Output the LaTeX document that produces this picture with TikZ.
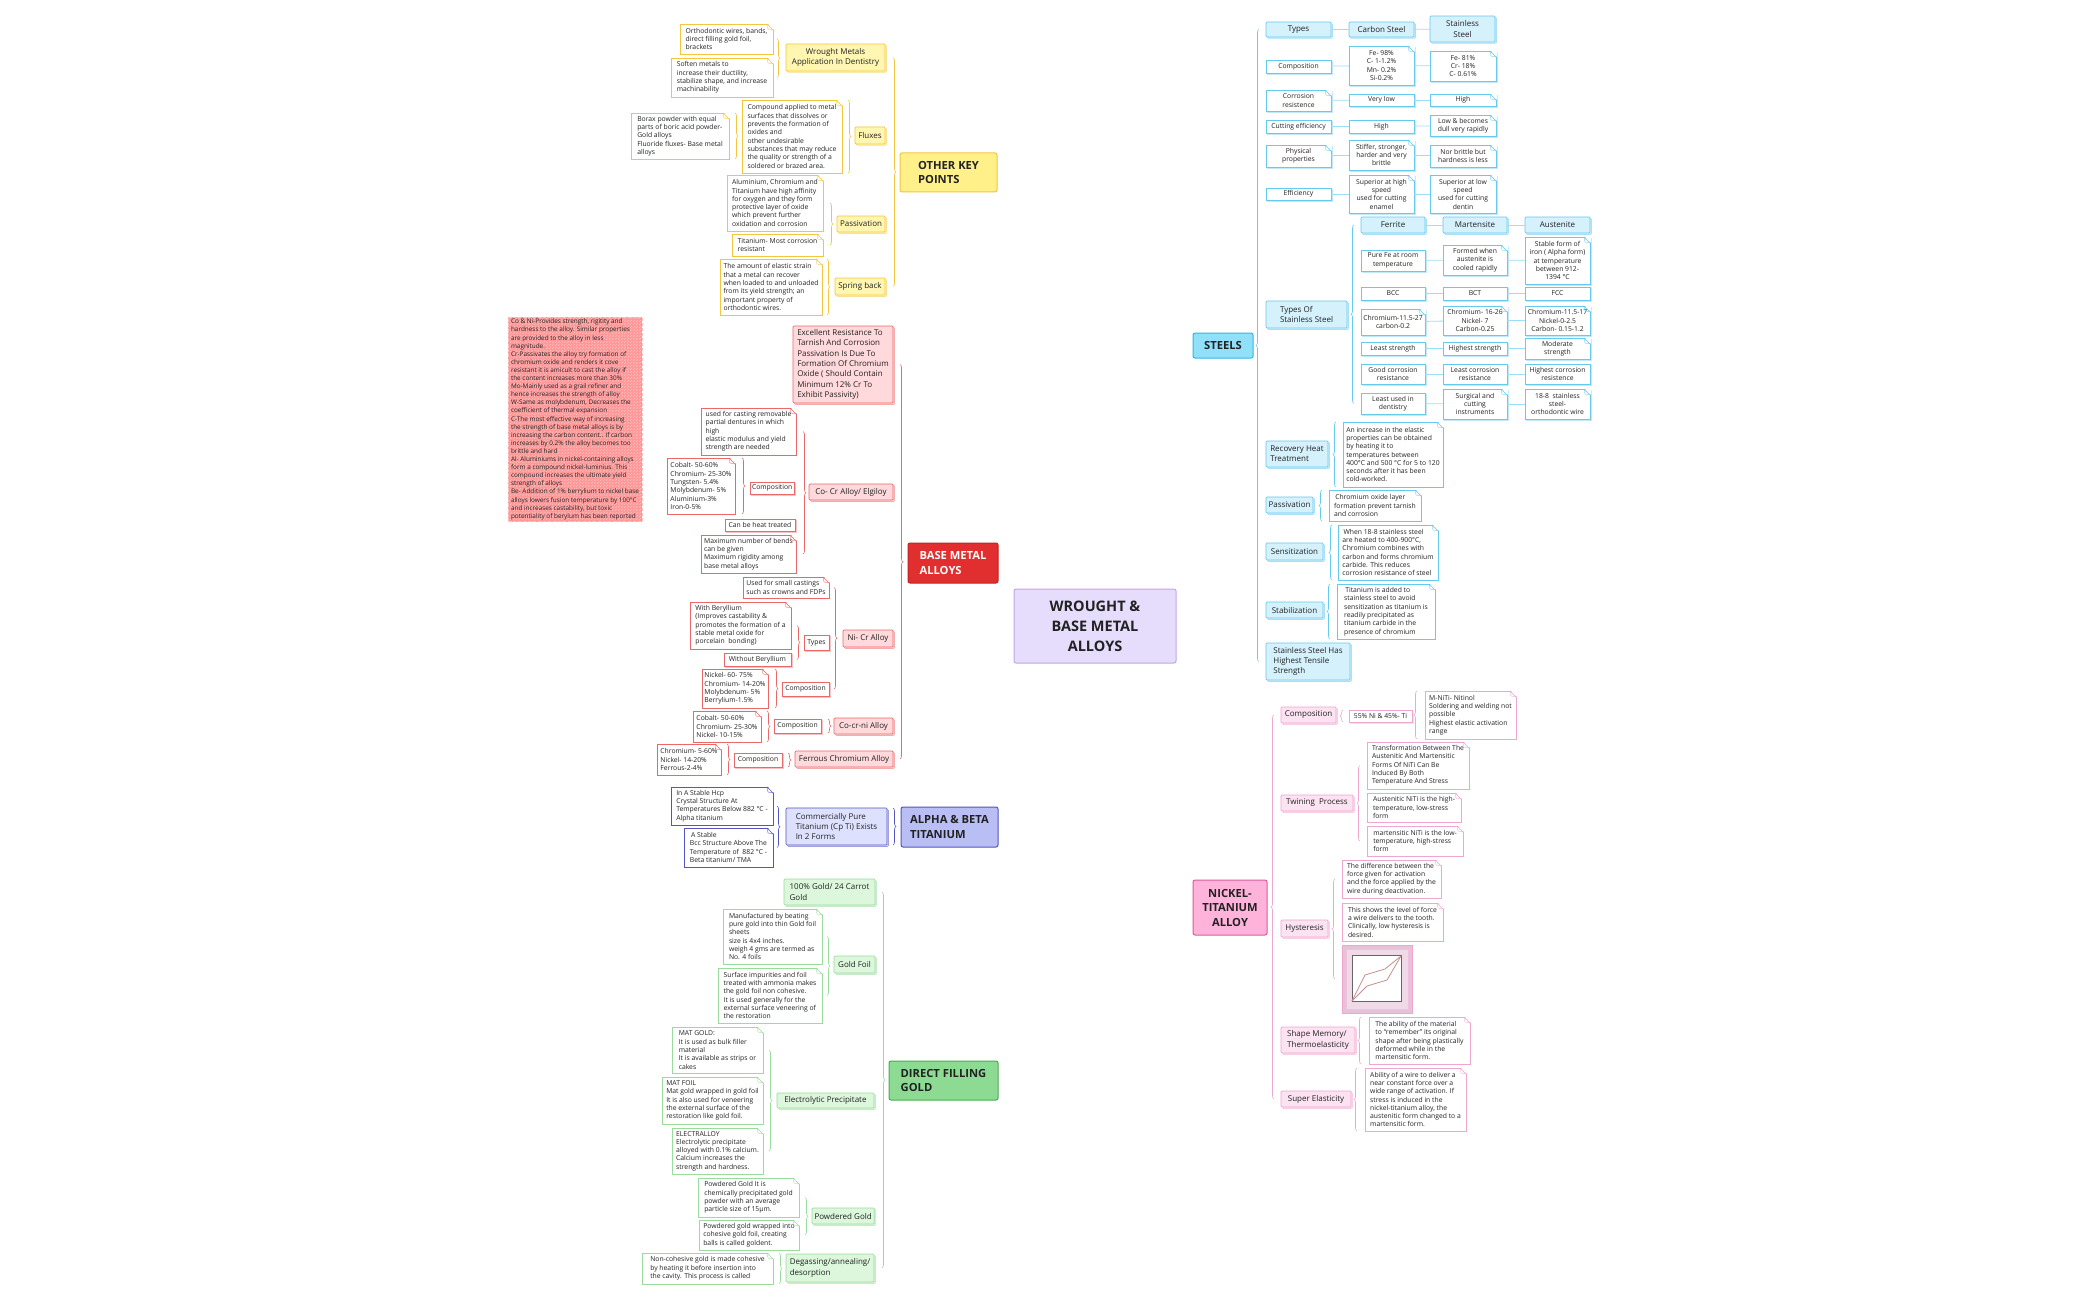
\documentclass[tikz,border=0pt]{standalone}
\usepackage{fontspec}
\setmainfont{Open Sans}
\usetikzlibrary{calc,decorations.pathreplacing,shadows,patterns,backgrounds}

\definecolor{hubF}{HTML}{E6DCFC}
\definecolor{hubB}{HTML}{C3A6E8}
\definecolor{ylwL}{HTML}{F9C21E}
\definecolor{ylwB}{HTML}{F4C63D}
\definecolor{ylwF}{HTML}{FFF08A}
\definecolor{ylwS}{HTML}{FFF6B2}
\definecolor{redL}{HTML}{E23A3A}
\definecolor{redB}{HTML}{C42222}
\definecolor{redF}{HTML}{E12E2E}
\definecolor{redE}{HTML}{EB6868}
\definecolor{redS}{HTML}{FFD9DB}
\definecolor{redN}{HTML}{FF9696}
\definecolor{purL}{HTML}{5D5DC9}
\definecolor{purB}{HTML}{5454C2}
\definecolor{purF}{HTML}{B9BFF5}
\definecolor{purS}{HTML}{DEE1FE}
\definecolor{grnL}{HTML}{9DE2A1}
\definecolor{grnB}{HTML}{4DAA53}
\definecolor{grnF}{HTML}{8DDA93}
\definecolor{grnE}{HTML}{9ADB9E}
\definecolor{grnS}{HTML}{DCF7DC}
\definecolor{bluL}{HTML}{9BDFF6}
\definecolor{bluB}{HTML}{2FBAE3}
\definecolor{bluF}{HTML}{8FE0F8}
\definecolor{bluE}{HTML}{66C9EE}
\definecolor{bluS}{HTML}{D5F1FC}
\definecolor{pnkL}{HTML}{EDB8D7}
\definecolor{pnkB}{HTML}{DE5A9E}
\definecolor{pnkF}{HTML}{FFB3DB}
\definecolor{pnkE}{HTML}{EEA7CF}
\definecolor{pnkS}{HTML}{FCE3F1}
\definecolor{imgF}{HTML}{E6C1D7}
\definecolor{curve}{HTML}{C48F8C}
\definecolor{ink}{HTML}{222222}

\newcommand{\dogear}[2]{%
  \fill[white] ($(#1.north east)+(-6,-1)$) -- ($(#1.north east)+(1,-1)$) -- ($(#1.north east)+(1,6)$) -- cycle;
  \draw[#2, line width=.5pt, line join=round] ($(#1.north east)+(-6,0)$) -- ($(#1.north east)+(0,6)$);
  \draw[#2, line width=.35pt] ($(#1.north east)+(-6,0)$) -- ($(#1.north east)+(-5,5)$) -- ($(#1.north east)+(0,6)$);
}

\begin{document}
\begin{tikzpicture}[x=1pt, y=-1pt,
  every node/.style={anchor=north west, inner sep=2.5pt, outer sep=0pt, text=ink},
  hub/.style={draw=hubB, fill=hubF, line width=1pt, rounded corners=2pt, align=center, font=\bfseries\fontsize{14.5}{20}\selectfont},
  branch/.style 2 args={draw=#1, fill=#2, line width=1pt, rounded corners=2pt, align=left, font=\bfseries\fontsize{11.2}{14.5}\selectfont, inner sep=4pt},
  sub/.style 2 args={draw=#1, fill=#2, line width=.7pt, rounded corners=1pt, align=left, font=\fontsize{8}{10.3}\selectfont,
    general shadow={shadow xshift=1.4pt, shadow yshift=-1.4pt, draw=#1!55, fill=#2}},
  note/.style={draw=#1, fill=white, line width=.6pt, align=left, inner sep=2pt, font=\fontsize{6.8}{8.3}\selectfont},
  cell/.style={draw=#1, fill=white, line width=.6pt, align=center, inner sep=2pt, font=\fontsize{6.8}{8.3}\selectfont,
    general shadow={shadow xshift=1.2pt, shadow yshift=-1.2pt, draw=#1!40, fill=white}},
  rnote/.style={fill=redN, draw=redN!60!white, line width=.8pt, densely dashed, align=left, inner sep=2pt, font=\fontsize{6.4}{8.1}\selectfont,
    postaction={pattern=north east lines, pattern color=white!45!redN}},
  brc/.style={decorate, decoration={brace, amplitude=3pt}, draw=#1, line width=.6pt},
  link/.style={draw=#1, line width=2.8pt, line cap=round}
]
\fill[white] (0,0) rectangle (2100,1300);

\node[hub, minimum width=162pt, minimum height=74pt] (cen) at (1014,589) {WROUGHT \&\\BASE METAL\\ALLOYS};

\node[branch={ylwB}{ylwF}, minimum width=97pt, minimum height=39pt] (okp) at (900,153) {OTHER KEY\\POINTS};
\node[sub={ylwB}{ylwS}, align=center, minimum width=99pt, minimum height=27pt] (okwm) at (786,44) {Wrought Metals\\Application In Dentistry};
\node[sub={ylwB}{ylwS}, minimum width=30pt, minimum height=17pt] (okfx) at (855,127) {Fluxes};
\node[sub={ylwB}{ylwS}, minimum width=48pt, minimum height=16pt] (okpa) at (837,216) {Passivation};
\node[sub={ylwB}{ylwS}, minimum width=50pt, minimum height=17pt] (oksb) at (835,278) {Spring back};
\node[note=ylwB, minimum width=93pt, minimum height=30pt] (n1) at (680,24) {Orthodontic wires, bands,\\direct filling gold foil,\\brackets};
\node[note=ylwB, minimum width=102pt, minimum height=39pt] (n2) at (671,58) {Soften metals to\\increase their ductility,\\stabilize shape, and increase\\machinability};
\node[note=ylwB, minimum width=100pt, minimum height=73pt] (n3) at (742,100) {Compound applied to metal\\surfaces that dissolves or\\prevents the formation of\\oxides and\\other undesirable\\substances that may reduce\\the quality or strength of a\\soldered or brazed area.};
\node[note=ylwB, minimum width=98pt, minimum height=46pt] (n4) at (631,113) {Borax powder with equal\\parts of boric acid powder-\\Gold alloys\\Fluoride fluxes- Base metal\\alloys};
\node[note=ylwB, minimum width=96pt, minimum height=56pt] (n5) at (727,175) {Aluminium, Chromium and\\Titanium have high affinity\\for oxygen and they form\\protective layer of oxide\\which prevent further\\oxidation and corrosion};
\node[note=ylwB, minimum width=91pt, minimum height=22pt] (n6) at (732,234) {Titanium- Most corrosion\\resistant};
\node[note=ylwB, minimum width=102pt, minimum height=56pt] (n7) at (720,259) {The amount of elastic strain\\that a metal can recover\\when loaded to and unloaded\\from its yield strength; an\\important property of\\orthodontic wires.};

\node[rnote, minimum width=134pt, minimum height=201pt] (rn) at (508,317) {Co \& Ni-Provides strength, rigitity and\\hardness to the alloy. Similar properties\\are provided to the alloy in less\\magnitude.\\Cr-Passivates the alloy try formation of\\chromium oxide and renders it cove\\resistant it is amicult to cast the alloy if\\the content increases more than 30\%\\Mo-Mainly used as a grail refiner and\\hence increases the strength of alloy\\W-Same as molybdenum, Decreases the\\coefficient of thermal expansion\\C-The most effective way of increasing\\the strength of base metal alloys is by\\increasing the carbon content.. If carbon\\increases by 0.2\% the alloy becomes too\\brittle and hard\\Al- Aluminiums in nickel-containing alloys\\form a compound nickel-luminius. This\\compound increases the ultimate yield\\strength of alloys\\Be- Addition of 1\% berrylium to nickel base\\alloys lowers fusion temperature by 100°C\\and increases castability, but toxic\\potentiality of berylum has been reported};

\node[branch={redB}{redF}, text=white, minimum width=90pt, minimum height=40pt] (bma) at (908,543) {BASE METAL\\ALLOYS};
\node[sub={redE}{redS}, minimum width=100pt, minimum height=77pt] (bmex) at (793,326) {Excellent Resistance To\\Tarnish And Corrosion\\Passivation Is Due To\\Formation Of Chromium\\Oxide ( Should Contain\\Minimum 12\% Cr To\\Exhibit Passivity)};
\node[sub={redE}{redS}, minimum width=84pt, minimum height=16pt] (bmcc) at (809,484) {Co- Cr Alloy/ Elgiloy};
\node[sub={redE}{redS}, minimum width=50pt, minimum height=17pt] (bmnc) at (843,630) {Ni- Cr Alloy};
\node[sub={redE}{redS}, minimum width=59pt, minimum height=16pt] (bmcn) at (834,718) {Co-cr-ni Alloy};
\node[sub={redE}{redS}, minimum width=98pt, minimum height=16pt] (bmfc) at (795,751) {Ferrous Chromium Alloy};
\node[note=redE, minimum width=95pt, minimum height=47pt] (cc1) at (701,408) {used for casting removable\\partial dentures in which\\high\\elastic modulus and yield\\strength are needed};
\node[cell=redE, minimum width=44pt, minimum height=12pt] (ccc) at (750,482) {Composition};
\node[note=redE, minimum width=68pt, minimum height=56pt] (ccn) at (667,458) {Cobalt- 50-60\%\\Chromium- 25-30\%\\Tungsten- 5.4\%\\Molybdenum- 5\%\\Aluminium-3\%\\Iron-0-5\%};
\node[cell=redE, minimum width=70pt, minimum height=12pt] (cch) at (725,519) {Can be heat treated};
\node[note=redE, minimum width=95pt, minimum height=38pt] (cc2) at (701,535) {Maximum number of bends\\can be given\\Maximum rigidity among\\base metal alloys};
\node[note=redE, minimum width=86pt, minimum height=21pt] (nc1) at (743,577) {Used for small castings\\such as crowns and FDPs};
\node[cell=redE, minimum width=25pt, minimum height=15pt] (nct) at (804,635) {Types};
\node[note=redE, minimum width=101pt, minimum height=47pt] (nb1) at (690,602) {With Beryllium\\(Improves castability \&\\promotes the formation of a\\stable metal oxide for\\porcelain~ bonding)};
\node[cell=redE, minimum width=67pt, minimum height=13pt] (nb2) at (724,653) {Without Beryllium};
\node[cell=redE, minimum width=47pt, minimum height=14pt] (ncc) at (782,682) {Composition};
\node[note=redE, minimum width=66pt, minimum height=39pt] (ncn) at (702,669) {Nickel- 60- 75\%\\Chromium- 14-20\%\\Molybdenum- 5\%\\Berrylium-1.5\%};
\node[cell=redE, minimum width=47pt, minimum height=14pt] (cnc) at (774,719) {Composition};
\node[note=redE, minimum width=68pt, minimum height=31pt] (cnn) at (693,711) {Cobalt- 50-60\%\\Chromium- 25-30\%\\Nickel- 10-15\%};
\node[cell=redE, minimum width=48pt, minimum height=14pt] (fcc) at (734,753) {Composition};
\node[note=redE, minimum width=64pt, minimum height=31pt] (fcn) at (657,744) {Chromium- 5-60\%\\Nickel- 14-20\%\\Ferrous-2-4\%};

\node[branch={purB}{purF}, minimum width=97pt, minimum height=40pt] (abt) at (901,807) {ALPHA \& BETA\\TITANIUM};
\node[sub={purB}{purS}, minimum width=101pt, minimum height=37pt] (abcp) at (786,808) {Commercially Pure\\Titanium (Cp Ti) Exists\\In 2 Forms};
\node[note=purB, minimum width=102pt, minimum height=38pt] (ab1) at (671,787) {In A Stable Hcp\\Crystal Structure At\\Temperatures Below 882 °C -\\Alpha titanium};
\node[note=purB, minimum width=89pt, minimum height=39pt] (ab2) at (684,828) {\,A Stable\\Bcc Structure Above The\\Temperature of~ 882 °C -\\Beta titanium/ TMA};

\node[branch={grnB}{grnF}, minimum width=109pt, minimum height=39pt] (dfg) at (889,1061) {DIRECT FILLING\\GOLD};
\node[sub={grnE}{grnS}, minimum width=91pt, minimum height=26pt] (d24) at (784,879) {100\% Gold/ 24 Carrot\\Gold};
\node[sub={grnE}{grnS}, minimum width=41pt, minimum height=17pt] (dgf) at (834,956) {Gold Foil};
\node[sub={grnE}{grnS}, minimum width=97pt, minimum height=15pt] (dep) at (777,1093) {Electrolytic Precipitate};
\node[sub={grnE}{grnS}, minimum width=62pt, minimum height=16pt] (dpg) at (812,1208) {Powdered Gold};
\node[sub={grnE}{grnS}, minimum width=88pt, minimum height=28pt] (ddg) at (786,1254) {Degassing/annealing/\\desorption};
\node[note=grnE, minimum width=99pt, minimum height=55pt] (g1) at (723,909) {Manufactured by beating\\pure gold into thin Gold foil\\sheets\\size is 4x4 inches.\\weigh 4 gms are termed as\\No. 4 foils};
\node[note=grnE, minimum width=104pt, minimum height=55pt] (g2) at (718,968) {Surface impurities and foil\\treated with ammonia makes\\the gold foil non cohesive.\\It is used generally for the\\external surface veneering of\\the restoration};
\node[note=grnE, minimum width=91pt, minimum height=46pt] (g3) at (672,1027) {MAT GOLD:\\It is used as bulk filler\\material\\It is available as strips or\\cakes};
\node[note=grnE, minimum width=101pt, minimum height=47pt] (g4) at (662,1077) {MAT FOIL\\Mat gold wrapped in gold foil\\It is also used for veneering\\the external surface of the\\restoration like gold foil.};
\node[note=grnE, minimum width=91pt, minimum height=46pt] (g5) at (672,1128) {ELECTRALLOY\\Electrolytic precipitate\\alloyed with 0.1\% calcium.\\Calcium increases the\\strength and hardness.};
\node[note=grnE, minimum width=101pt, minimum height=39pt] (g6) at (698,1178) {Powdered Gold It is\\chemically precipitated gold\\powder with an average\\particle size of 15µm.};
\node[note=grnE, minimum width=100pt, minimum height=30pt] (g7) at (699,1220) {Powdered gold wrapped into\\cohesive gold foil, creating\\balls is called goldent.};
\node[note=grnE, minimum width=131pt, minimum height=31pt] (g8) at (642,1253) {Non-cohesive gold is made cohesive\\by heating it before insertion into\\the cavity. This process is called};

\node[branch={bluB}{bluF}, minimum width=60pt, minimum height=25pt] (stl) at (1193,333) {STEELS};
\node[sub={bluE}{bluS}, align=center, minimum width=65pt, minimum height=15pt] (stty) at (1266,22) {Types};
\node[sub={bluE}{bluS}, align=center, minimum width=65pt, minimum height=15pt] (stcs) at (1349,22) {Carbon Steel};
\node[sub={bluE}{bluS}, align=center, minimum width=65pt, minimum height=26pt] (stss) at (1430,16) {Stainless\\Steel};
\node[cell=bluE, minimum width=65pt, minimum height=13pt] (stco) at (1266,60) {Composition};
\node[cell=bluE, minimum width=65pt, minimum height=39pt] (sc1) at (1349,46) {Fe- 98\%\\C- 1-1.2\%\\Mn- 0.2\%\\Si-0.2\%};
\node[cell=bluE, minimum width=66pt, minimum height=30pt] (sc2) at (1430,51) {Fe- 81\%\\Cr- 18\%\\C- 0.61\%};
\node[cell=bluE, minimum width=65pt, minimum height=21pt] (stcr) at (1266,90) {Corrosion\\resistence};
\node[cell=bluE, minimum width=65pt, minimum height=12pt] (scr1) at (1349,94) {Very low};
\node[cell=bluE, minimum width=66pt, minimum height=12pt] (scr2) at (1430,94) {High};
\node[cell=bluE, minimum width=65pt, minimum height=13pt] (stcu) at (1266,120) {Cutting efficiency};
\node[cell=bluE, minimum width=65pt, minimum height=13pt] (scu1) at (1349,120) {High};
\node[cell=bluE, minimum width=66pt, minimum height=21pt] (scu2) at (1430,115) {Low \& becomes\\dull very rapidly};
\node[cell=bluE, minimum width=65pt, minimum height=22pt] (stph) at (1266,145) {Physical\\properties};
\node[cell=bluE, minimum width=65pt, minimum height=30pt] (sph1) at (1349,140) {Stiffer, stronger,\\harder and very\\brittle};
\node[cell=bluE, minimum width=66pt, minimum height=22pt] (sph2) at (1430,145) {Nor brittle but\\hardness is less};
\node[cell=bluE, minimum width=65pt, minimum height=12pt] (stef) at (1266,188) {Efficiency};
\node[cell=bluE, minimum width=65pt, minimum height=38pt] (sef1) at (1349,175) {Superior at high\\speed\\used for cutting\\enamel};
\node[cell=bluE, minimum width=66pt, minimum height=38pt] (sef2) at (1430,175) {Superior at low\\speed\\used for cutting\\dentin};

\node[sub={bluE}{bluS}, minimum width=81pt, minimum height=27pt] (stts) at (1266,301) {Types Of\\Stainless Steel};
\node[sub={bluE}{bluS}, align=center, minimum width=64pt, minimum height=16pt] (fe) at (1361,217) {Ferrite};
\node[sub={bluE}{bluS}, align=center, minimum width=64pt, minimum height=16pt] (ma) at (1443,217) {Martensite};
\node[sub={bluE}{bluS}, align=center, minimum width=65pt, minimum height=16pt] (au) at (1525,217) {Austenite};
\node[cell=bluE, minimum width=64pt, minimum height=21pt] (r2a) at (1361,250) {Pure Fe at room\\temperature};
\node[cell=bluE, minimum width=64pt, minimum height=30pt] (r2b) at (1443,245) {Formed when\\austenite is\\cooled rapidly};
\node[cell=bluE, minimum width=65pt, minimum height=47pt] (r2c) at (1525,237) {Stable form of\\iron ( Alpha form)\\at temperature\\between 912-\\1394 °C};
\node[cell=bluE, minimum width=64pt, minimum height=13pt] (r3a) at (1361,287) {BCC};
\node[cell=bluE, minimum width=64pt, minimum height=13pt] (r3b) at (1443,287) {BCT};
\node[cell=bluE, minimum width=65pt, minimum height=13pt] (r3c) at (1525,287) {FCC};
\node[cell=bluE, minimum width=64pt, minimum height=26pt] (r4a) at (1361,309) {Chromium-11.5-27\\carbon-0.2};
\node[cell=bluE, minimum width=64pt, minimum height=29pt] (r4b) at (1443,306) {Chromium- 16-26\\Nickel- 7\\Carbon-0.25};
\node[cell=bluE, minimum width=65pt, minimum height=29pt] (r4c) at (1525,306) {Chromium-11.5-17\\Nickel-0-2.5\\Carbon- 0.15-1.2};
\node[cell=bluE, minimum width=64pt, minimum height=13pt] (r5a) at (1361,342) {Least strength};
\node[cell=bluE, minimum width=64pt, minimum height=13pt] (r5b) at (1443,342) {Highest strength};
\node[cell=bluE, minimum width=65pt, minimum height=21pt] (r5c) at (1525,338) {Moderate\\strength};
\node[cell=bluE, minimum width=64pt, minimum height=20pt] (r6a) at (1361,364) {Good corrosion\\resistance};
\node[cell=bluE, minimum width=64pt, minimum height=20pt] (r6b) at (1443,364) {Least corrosion\\resistance};
\node[cell=bluE, minimum width=65pt, minimum height=20pt] (r6c) at (1525,364) {Highest corrosion\\resistence};
\node[cell=bluE, minimum width=64pt, minimum height=21pt] (r7a) at (1361,393) {Least used in\\dentistry};
\node[cell=bluE, minimum width=64pt, minimum height=30pt] (r7b) at (1443,389) {Surgical and\\cutting\\instruments};
\node[cell=bluE, minimum width=65pt, minimum height=30pt] (r7c) at (1525,389) {18-8~ stainless\\steel-\\orthodontic wire};

\node[sub={bluE}{bluS}, minimum width=62pt, minimum height=26pt] (strh) at (1266,441) {Recovery Heat\\Treatment};
\node[note=bluE, minimum width=100pt, minimum height=65pt] (rh1) at (1343,422) {An increase in the elastic\\properties can be obtained\\by heating it to\\temperatures between\\400°C and 500 °C for 5 to 120\\seconds after it has been\\cold-worked.};
\node[sub={bluE}{bluS}, minimum width=47pt, minimum height=16pt] (stpa) at (1266,497) {Passivation};
\node[note=bluE, minimum width=92pt, minimum height=31pt] (spa) at (1329,490) {\,Chromium oxide layer\\formation prevent tarnish\\and corrosion};
\node[sub={bluE}{bluS}, minimum width=57pt, minimum height=17pt] (stse) at (1266,543) {Sensitization};
\node[note=bluE, minimum width=100pt, minimum height=55pt] (sse) at (1338,525) {\,When 18-8 stainless steel\\are heated to 400-900°C,\\Chromium combines with\\carbon and forms chromium\\carbide. This reduces\\corrosion resistance of steel};
\node[sub={bluE}{bluS}, minimum width=57pt, minimum height=16pt] (stsb) at (1266,602) {Stabilization};
\node[note=bluE, minimum width=98pt, minimum height=55pt] (ssb) at (1337,584) {\,Titanium is added to\\stainless steel to avoid\\sensitization as titanium is\\readily precipitated as\\titanium carbide in the\\presence of chromium};
\node[sub={bluE}{bluS}, minimum width=84pt, minimum height=37pt] (sths) at (1266,643) {Stainless Steel Has\\Highest Tensile\\Strength};

\node[branch={pnkB}{pnkF}, align=center, minimum width=74pt, minimum height=55pt] (nti) at (1193,880) {NICKEL-\\TITANIUM\\ALLOY};
\node[sub={pnkE}{pnkS}, minimum width=55pt, minimum height=16pt] (nico) at (1281,707) {Composition};
\node[cell=pnkE, minimum width=63pt, minimum height=12pt] (nic1) at (1349,710) {55\% Ni \& 45\%- Ti};
\node[note=pnkE, minimum width=91pt, minimum height=48pt] (nic2) at (1425,691) {M-NiTi- Nitinol\\Soldering and welding not\\possible\\Highest elastic activation\\range};
\node[sub={pnkE}{pnkS}, minimum width=72pt, minimum height=16pt] (nitw) at (1281,795) {Twining~ Process};
\node[note=pnkE, minimum width=102pt, minimum height=47pt] (t1) at (1367,742) {Transformation Between The\\Austenitic And Martensitic\\Forms Of NiTi Can Be\\Induced By Both\\Temperature And Stress};
\node[note=pnkE, minimum width=94pt, minimum height=29pt] (t2) at (1367,793) {Austenitic NiTi is the high-\\temperature, low-stress\\form};
\node[note=pnkE, minimum width=96pt, minimum height=30pt] (t3) at (1367,826) {martensitic NiTi is the low-\\temperature, high-stress\\form};
\node[sub={pnkE}{pnkS}, minimum width=47pt, minimum height=17pt] (nihy) at (1281,920) {Hysteresis};
\node[note=pnkE, minimum width=99pt, minimum height=38pt] (h1) at (1342,860) {The difference between the\\force given for activation\\and the force applied by the\\wire during deactivation.};
\node[note=pnkE, minimum width=101pt, minimum height=38pt] (h2) at (1342,903) {This shows the level of force\\a wire delivers to the tooth.\\Clinically, low hysteresis is\\desired.};
\node[draw=pnkE, fill=imgF, line width=.6pt, minimum width=70pt, minimum height=68pt] (h3) at (1342,945) {};
\node[sub={pnkE}{pnkS}, minimum width=74pt, minimum height=26pt] (nism) at (1281,1027) {Shape Memory/\\Thermoelasticity};
\node[note=pnkE, minimum width=101pt, minimum height=47pt] (sm1) at (1369,1017) {The ability of the material\\to “remember” its original\\shape after being plastically\\deformed while in the\\martensitic form.};
\node[sub={pnkE}{pnkS}, minimum width=70pt, minimum height=16pt] (nise) at (1281,1091) {Super Elasticity};
\node[note=pnkE, minimum width=101pt, minimum height=63pt] (se1) at (1365,1068) {Ability of a wire to deliver a\\near constant force over a\\wide range of activation. If\\stress is induced in the\\nickel-titanium alloy, the\\austenitic form changed to a\\martensitic form.};

\begin{scope}[shift={(h3.north west)}]
\draw[pnkE!70, fill=imgF!60!white, line width=.4pt] (4,4) rectangle (66,64);
\draw[black!60, fill=white, line width=.5pt] (10,10) rectangle (59,56);
\draw[curve, line width=.8pt] (10,56) -- (23,30) -- (43,24) -- (59,11);
\draw[curve, line width=.8pt] (10,56) -- (25,41) -- (45,35) -- (59,11);
\end{scope}

\begin{scope}[on background layer]
\draw[link=ylwL] ($(cen.north)+(-7,0)$) .. controls (1086,320) and (1055,173) .. (okp.east);
\draw[link=bluL] ($(cen.north)+(8,0)$) .. controls (1110,420) and (1140,346) .. (stl.west);
\draw[link=redL, line width=2pt] (bma.east) .. controls (1030,563) and (1048,575) .. ($(cen.north west)+(40,0)$);
\draw[link=purL] ($(cen.south)+(-13,0)$) .. controls (1075,750) and (1050,827) .. (abt.east);
\draw[link=grnL] ($(cen.south)+(-5,0)$) .. controls (1075,900) and (1065,1080) .. (dfg.east);
\draw[link=pnkL] ($(cen.south)+(8,0)$) .. controls (1110,790) and (1150,907) .. (nti.west);
\end{scope}

\foreach \a/\b in {stty/stcs, stcs/stss, stco/sc1, sc1/sc2, stcr/scr1, scr1/scr2, stcu/scu1, scu1/scu2,
  stph/sph1, sph1/sph2, stef/sef1, sef1/sef2, fe/ma, ma/au, r2a/r2b, r2b/r2c, r3a/r3b, r3b/r3c,
  r4a/r4b, r4b/r4c, r5a/r5b, r5b/r5c, r6a/r6b, r6b/r6c, r7a/r7b, r7b/r7c}
  \draw[bluL, line width=.8pt] (\a) -- (\b);

\draw[brc=ylwB] ($(okp.west |- okwm.center)+(-7,0)$) -- ($(okp.west |- oksb.center)+(-7,0)$);
\draw[brc=ylwB] ($(okwm.west |- n1.center)+(-9,0)$) -- ($(okwm.west |- n2.center)+(-9,0)$);
\draw[brc=ylwB] ($(okfx.west |- n3.north)+(-7,0)$) -- ($(okfx.west |- n3.south)+(-7,0)$);
\draw[brc=ylwB] ($(n3.west |- n4.north)+(-7,0)$) -- ($(n3.west |- n4.south)+(-7,0)$);
\draw[brc=ylwB] ($(okpa.west |- n5.center)+(-7,0)$) -- ($(okpa.west |- n6.center)+(-7,0)$);
\draw[brc=ylwB] ($(oksb.west |- n7.north)+(-8,0)$) -- ($(oksb.west |- n7.south)+(-8,0)$);

\draw[brc=redE] ($(bma.west |- bmex.center)+(-8,0)$) -- ($(bma.west |- bmfc.center)+(-8,0)$);
\draw[brc=redE] ($(bmcc.west |- cc1.center)+(-6,0)$) -- ($(bmcc.west |- cc2.center)+(-6,0)$);
\draw[brc=redE] ($(ccc.west |- ccn.north)+(-8,0)$) -- ($(ccc.west |- ccn.south)+(-8,0)$);
\draw[brc=redE] ($(bmnc.west |- nc1.center)+(-9,0)$) -- ($(bmnc.west |- ncc.center)+(-9,0)$);
\draw[brc=redE] ($(nct.west |- nb1.center)+(-7,0)$) -- ($(nct.west |- nb2.center)+(-7,0)$);
\draw[brc=redE] ($(ncc.west |- ncn.north)+(-7,0)$) -- ($(ncc.west |- ncn.south)+(-7,0)$);
\draw[brc=redE] ($(bmcn.west |- cnc.north)+(-6,0)$) -- ($(bmcn.west |- cnc.south)+(-6,0)$);
\draw[brc=redE] ($(cnc.west |- cnn.north)+(-7,0)$) -- ($(cnc.west |- cnn.south)+(-7,0)$);
\draw[brc=redE] ($(bmfc.west |- fcc.north)+(-7,0)$) -- ($(bmfc.west |- fcc.south)+(-7,0)$);
\draw[brc=redE] ($(fcc.west |- fcn.north)+(-7,0)$) -- ($(fcc.west |- fcn.south)+(-7,0)$);

\draw[brc=purB] ($(abt.west |- abcp.north)+(-8,0)$) -- ($(abt.west |- abcp.south)+(-8,0)$);
\draw[brc=purB] ($(abcp.west |- ab1.center)+(-9,0)$) -- ($(abcp.west |- ab2.center)+(-9,0)$);

\draw[brc=grnE] ($(dfg.west |- d24.center)+(-7,0)$) -- ($(dfg.west |- ddg.center)+(-7,0)$);
\draw[brc=grnE] ($(dgf.west |- g1.center)+(-7,0)$) -- ($(dgf.west |- g2.center)+(-7,0)$);
\draw[brc=grnE] ($(dep.west |- g3.center)+(-8,0)$) -- ($(dep.west |- g5.center)+(-8,0)$);
\draw[brc=grnE] ($(dpg.west |- g6.center)+(-7,0)$) -- ($(dpg.west |- g7.center)+(-7,0)$);
\draw[brc=grnE] ($(ddg.west |- g8.north)+(-7,0)$) -- ($(ddg.west |- g8.south)+(-7,0)$);

\draw[brc=bluE] ($(stl.east |- sths.center)+(6,0)$) -- ($(stl.east |- stty.center)+(6,0)$);
\draw[brc=bluE] ($(stts.east |- r7a.center)+(7,0)$) -- ($(stts.east |- fe.center)+(7,0)$);
\draw[brc=bluE] ($(strh.east |- rh1.south)+(8,0)$) -- ($(strh.east |- rh1.north)+(8,0)$);
\draw[brc=bluE] ($(stpa.east |- spa.south)+(9,0)$) -- ($(stpa.east |- spa.north)+(9,0)$);
\draw[brc=bluE] ($(stse.east |- sse.south)+(9,0)$) -- ($(stse.east |- sse.north)+(9,0)$);
\draw[brc=bluE] ($(stsb.east |- ssb.south)+(7,0)$) -- ($(stsb.east |- ssb.north)+(7,0)$);

\draw[brc=pnkE] ($(nti.east |- nise.center)+(7,0)$) -- ($(nti.east |- nico.center)+(7,0)$);
\draw[brc=pnkE] ($(nico.east |- nic1.south)+(7,0)$) -- ($(nico.east |- nic1.north)+(7,0)$);
\draw[brc=pnkE] ($(nic1.east |- nic2.south)+(5,0)$) -- ($(nic1.east |- nic2.north)+(5,0)$);
\draw[brc=pnkE] ($(nitw.east |- t3.center)+(7,0)$) -- ($(nitw.east |- t1.center)+(7,0)$);
\draw[brc=pnkE] ($(nihy.east |- h3.center)+(7,0)$) -- ($(nihy.east |- h1.center)+(7,0)$);
\draw[brc=pnkE] ($(nism.east |- sm1.south)+(6,0)$) -- ($(nism.east |- sm1.north)+(6,0)$);
\draw[brc=pnkE] ($(nise.east |- se1.south)+(6,0)$) -- ($(nise.east |- se1.north)+(6,0)$);

\foreach \n in {n1,n2,n3,n4,n5,n6,n7} \dogear{\n}{ylwB};
\foreach \n in {cc1,ccn,cc2,nc1,nb1,ncn,cnn,fcn} \dogear{\n}{redE};
\foreach \n in {ab1,ab2} \dogear{\n}{purB};
\foreach \n in {g1,g2,g3,g4,g5,g6,g7,g8} \dogear{\n}{grnE};
\foreach \n in {sc1,sc2,stcr,scr2,scu2,stph,sph1,sph2,sef1,sef2,r2b,r2c,r4a,r4b,r4c,r5c,r7b,r7c,rh1,spa,sse,ssb} \dogear{\n}{bluE};
\foreach \n in {nic2,t1,t2,t3,h1,h2,sm1,se1} \dogear{\n}{pnkE};
\end{tikzpicture}
\end{document}
